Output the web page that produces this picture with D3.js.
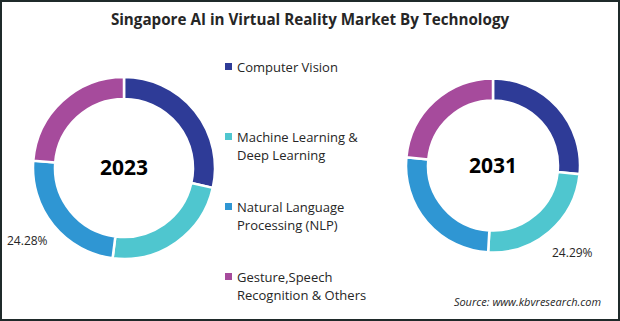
<!DOCTYPE html>
<html>
<head>
<meta charset="utf-8">
<script src="https://cdn.jsdelivr.net/npm/d3@7"></script>
<style>
  body { margin: 0; background: #fff; }
</style>
</head>
<body>
<script>
const wi = 620, hi = 321;     // width & height

const categories = ['Computer Vision', 'Machine Learning & Deep Learning', 'Natural Language Processing (NLP)', 'Gesture,Speech Recognition & Others'];
const legendLines = [['Computer Vision'], ['Machine Learning &', 'Deep Learning'], ['Natural Language', 'Processing (NLP)'], ['Gesture,Speech', 'Recognition & Others']];
const colors = ['#2e3b97', '#4fc6cf', '#2f96d3', '#a64b9c'];
const years = ['2023', '2031'];
const values2023 = [28.5, 23.5, 24.28, 23.72];
const values2031 = [26.6, 24.29, 25.6, 23.51];
const labelIndex = [2, 1];   // which slice carries a printed value

let svg = d3.select('body')
    .append('svg')
    .attr('width', wi)
    .attr('height', hi)
    .style('font-family', '"Open Sans", sans-serif');

// frame
svg.append('rect')
    .attr('x', 1).attr('y', 1)
    .attr('width', wi - 2).attr('height', hi - 2)
    .attr('fill', '#fff')
    .attr('stroke', '#1f2a2a')
    .attr('stroke-width', 2);

svg.append('text')
    .text('Singapore AI in Virtual Reality Market By Technology')
    .attr('x', wi / 2)
    .attr('y', 25)
    .attr('text-anchor', 'middle')
    .attr('font-size', 15.2)
    .attr('font-weight', 'bold')
    .attr('fill', '#262626');

const pie = d3.pie().sort(null).value(d => d);

const donuts = [
    {year: years[0], values: values2023, cx: 124, cy: 168, r: 91, inner: 69, label: labelIndex[0], lx: 7, ly: 245},
    {year: years[1], values: values2031, cx: 493, cy: 165.5, r: 87, inner: 65, label: labelIndex[1], lx: 552, ly: 257}
];

donuts.forEach(dn => {
    let g = svg.append('g').attr('transform', `translate(${dn.cx},${dn.cy})`);
    let arc = d3.arc().innerRadius(dn.inner).outerRadius(dn.r);
    g.selectAll('path')
        .data(pie(dn.values))
        .enter()
        .append('path')
        .attr('d', arc)
        .attr('fill', (d, i) => colors[i])
        .attr('stroke', '#fff')
        .attr('stroke-width', 2.5);
    g.append('text')
        .text(dn.year)
        .attr('text-anchor', 'middle')
        .attr('dy', '0.35em')
        .attr('font-size', 21)
        .attr('font-weight', 'bold')
        .attr('fill', '#000');
    svg.append('text')
        .text(dn.values[dn.label].toFixed(2) + '%')
        .attr('x', dn.lx)
        .attr('y', dn.ly)
        .attr('font-size', 12)
        .attr('fill', '#262626');
});

// legend
const legendY = [67, 137, 207, 277];
let legend = svg.selectAll('g.legend')
    .data(categories)
    .enter()
    .append('g')
    .attr('class', 'legend')
    .attr('transform', (d, i) => `translate(225,${legendY[i]})`);

legend.append('rect')
    .attr('x', 0).attr('y', -4)
    .attr('width', 7).attr('height', 7)
    .attr('fill', (d, i) => colors[i]);

legend.append('text')
    .attr('font-size', 13)
    .attr('fill', '#262626')
    .selectAll('tspan')
    .data((d, i) => legendLines[i])
    .enter()
    .append('tspan')
    .attr('x', 12)
    .attr('dy', (d, j) => j == 0 ? '0.35em' : 18)
    .text(d => d);

svg.append('text')
    .text('Source: www.kbvresearch.com')
    .attr('x', 601)
    .attr('y', 306)
    .attr('text-anchor', 'end')
    .attr('font-size', 11)
    .attr('font-style', 'italic')
    .attr('fill', '#262626');
</script>
</body>
</html>
